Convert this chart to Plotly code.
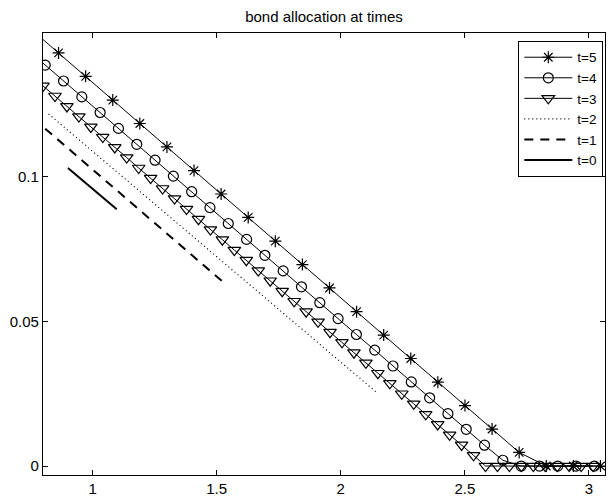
import plotly.graph_objects as go

# ---- data ----
x_t5 = [0.7535, 0.8627, 0.9719, 1.0811, 1.1903, 1.2995, 1.4087, 1.5179, 1.6271, 1.7363,
        1.8455, 1.9547, 2.0639, 2.1731, 2.2823, 2.3915, 2.5007, 2.6099, 2.7191, 2.8283,
        2.9375, 3.0467]
y_t5 = [0.1510, 0.1429, 0.1348, 0.1266, 0.1185, 0.1104, 0.1022, 0.0941, 0.0860, 0.0778,
        0.0697, 0.0616, 0.0534, 0.0453, 0.0372, 0.0290, 0.0209, 0.0128, 0.0047, 0.0,
        0.0, 0.0]

x_t4 = [0.7352, 0.8090, 0.8828, 0.9565, 1.0303, 1.1041, 1.1779, 1.2516, 1.3254, 1.3992,
        1.4729, 1.5467, 1.6205, 1.6942, 1.7680, 1.8418, 1.9156, 1.9893, 2.0631, 2.1369,
        2.2106, 2.2844, 2.3582, 2.4319, 2.5057, 2.5795, 2.6533, 2.7270, 2.8008, 2.8746,
        2.9483, 3.0221]
y_t4 = [0.1442, 0.1387, 0.1332, 0.1277, 0.1223, 0.1168, 0.1113, 0.1058, 0.1003, 0.0949,
        0.0894, 0.0839, 0.0784, 0.0729, 0.0675, 0.0620, 0.0565, 0.0510, 0.0455, 0.0401,
        0.0346, 0.0291, 0.0236, 0.0181, 0.0127, 0.0072, 0.0020, 0.0, 0.0, 0.0,
        0.0, 0.0]

x_t3 = [0.8000, 0.8482, 0.8964, 0.9446, 0.9928, 1.0410, 1.0892, 1.1374, 1.1856, 1.2338,
        1.2820, 1.3302, 1.3784, 1.4266, 1.4748, 1.5230, 1.5712, 1.6194, 1.6676, 1.7158,
        1.7640, 1.8122, 1.8604, 1.9086, 1.9568, 2.0050, 2.0532, 2.1014, 2.1496, 2.1978,
        2.2460, 2.2942, 2.3424, 2.3906, 2.4388, 2.4870, 2.5352, 2.5834, 2.6316, 2.6798,
        2.7280, 2.7762, 2.8244, 2.8726, 2.9208, 2.9690, 3.0172]
y_t3 = [0.1315, 0.1280, 0.1244, 0.1209, 0.1173, 0.1138, 0.1102, 0.1067, 0.1031, 0.0996,
        0.0960, 0.0925, 0.0889, 0.0854, 0.0818, 0.0783, 0.0747, 0.0712, 0.0676, 0.0641,
        0.0605, 0.0570, 0.0534, 0.0499, 0.0463, 0.0428, 0.0392, 0.0357, 0.0321, 0.0286,
        0.0250, 0.0215, 0.0179, 0.0144, 0.0108, 0.0073, 0.0037, 0.0, 0.0, 0.0,
        0.0, 0.0, 0.0, 0.0, 0.0, 0.0, 0.0]

x_t2 = [0.8225, 1.2000, 1.6000, 2.0000, 2.1480]
y_t2 = [0.1218, 0.0943, 0.0651, 0.0360, 0.0252]

x_t1 = [0.8090, 1.1000, 1.3000, 1.5320]
y_t1 = [0.1167, 0.0952, 0.0804, 0.0632]

x_t0 = [0.9004, 1.0000, 1.0972]
y_t0 = [0.1031, 0.0959, 0.0888]

x_ticks = [1, 1.5, 2, 2.5, 3]
x_tick_labels = ["1", "1.5", "2", "2.5", "3"]
y_ticks = [0, 0.05, 0.1]
y_tick_labels = ["0", "0.05", "0.1"]

FONT = "Liberation Sans, Arial, Helvetica, sans-serif"

fig = go.Figure()
fig.add_trace(go.Scatter(x=x_t5, y=y_t5, name="t=5", mode="lines+markers",
                         line=dict(color="black", width=1),
                         marker=dict(symbol="asterisk-open", size=10, color="black",
                                     line=dict(color="black", width=1.2))))
fig.add_trace(go.Scatter(x=x_t4, y=y_t4, name="t=4", mode="lines+markers",
                         line=dict(color="black", width=1),
                         marker=dict(symbol="circle-open", size=10, color="black",
                                     line=dict(color="black", width=1.2))))
fig.add_trace(go.Scatter(x=x_t3, y=y_t3, name="t=3", mode="lines+markers",
                         line=dict(color="black", width=1),
                         marker=dict(symbol="triangle-down-open", size=11, color="black",
                                     line=dict(color="black", width=1.2))))
fig.add_trace(go.Scatter(x=x_t2, y=y_t2, name="t=2", mode="lines",
                         line=dict(color="black", width=1.2, dash="1px,3px")))
fig.add_trace(go.Scatter(x=x_t1, y=y_t1, name="t=1", mode="lines",
                         line=dict(color="black", width=2, dash="9px,7px")))
fig.add_trace(go.Scatter(x=x_t0, y=y_t0, name="t=0", mode="lines",
                         line=dict(color="black", width=2)))

axis_common = dict(showline=True, linecolor="black", linewidth=1.2, mirror="ticks",
                   ticks="inside", ticklen=5, tickwidth=1, tickcolor="black",
                   showgrid=False, zeroline=False,
                   tickfont=dict(family=FONT, size=15, color="black"))

fig.update_xaxes(range=[0.8, 3.065], tickvals=x_ticks, ticktext=x_tick_labels, **axis_common)
fig.update_yaxes(range=[-0.0031, 0.1498], tickvals=y_ticks, ticktext=y_tick_labels, **axis_common)

fig.update_layout(
    width=611, height=502,
    margin=dict(l=43, r=5, t=33, b=21),
    paper_bgcolor="white", plot_bgcolor="white",
    title=dict(text="bond allocation at times", x=0.5, xref="paper",
               y=1 - 17 / 502, yanchor="middle",
               font=dict(family=FONT, size=15, color="black")),
    showlegend=True,
    legend=dict(x=0.997, xanchor="right", y=0.982, yanchor="top",
                bgcolor="white", bordercolor="black", borderwidth=1,
                font=dict(family=FONT, size=13.5, color="black"),
                itemwidth=48,
                traceorder="normal", tracegroupgap=0),
)

fig.write_html("out.html",
               config={"displayModeBar": False},
               post_script="document.body.style.margin='0';document.body.style.padding='0';")
